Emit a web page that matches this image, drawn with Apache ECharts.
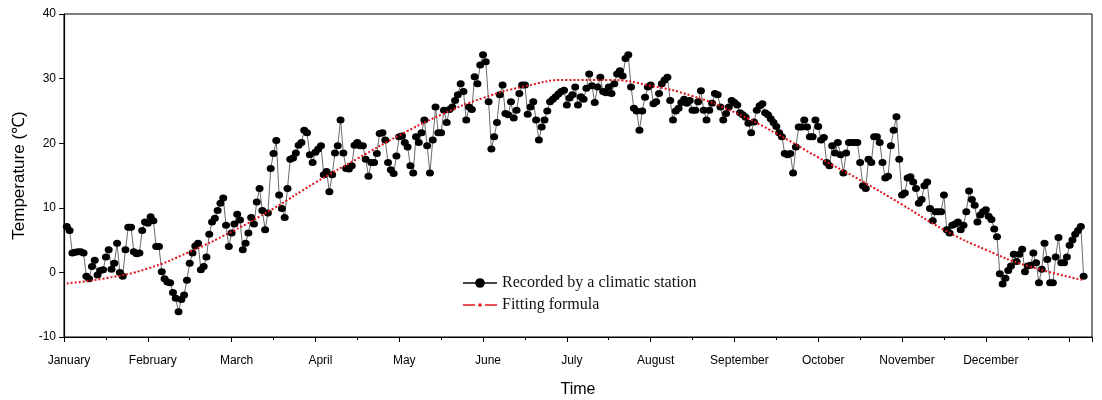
<!DOCTYPE html>
<html><head><meta charset="utf-8">
<script src="https://cdn.jsdelivr.net/npm/echarts/dist/echarts.min.js"></script>
<style>html,body{margin:0;padding:0;background:#fff}#c{width:1102px;height:400px}</style>
</head><body><div id="c"></div>
<script>
// Month tick labels (placed every 30 days on a day axis)
const monthNames = ['January','February','March','April','May','June','July','August','September','October','November','December'];
// Daily temperatures (°C) recorded by the climatic station, by month
const jan = [7.1, 6.5, 3.0, 3.1, 3.2, 3.2, 3.0, -0.6, -1.0, 0.9, 1.9, -0.4, 0.3, 0.4, 2.4, 3.5, 0.5, 1.4, 4.5, 0.0, -0.6, 3.5, 7.0, 7.0, 3.2, 2.9, 3.0, 6.5, 7.8, 7.6, 8.6];
const feb = [8.0, 4.0, 4.0, 0.1, -1.0, -1.5, -1.6, -3.1, -4.0, -6.1, -4.2, -3.5, -1.2, 1.4, 3.0, 4.1, 4.5, 0.4, 0.9, 2.4, 5.9, 7.8, 8.4, 9.6, 10.7, 11.5, 7.3, 4.0];
const mar = [6.1, 7.5, 9.0, 8.1, 3.5, 4.5, 6.1, 8.5, 7.5, 10.9, 13.0, 9.6, 6.6, 9.2, 16.1, 18.4, 20.4, 12.0, 9.9, 8.5, 13.0, 17.5, 17.7, 18.5, 19.7, 20.1, 22.0, 21.6, 18.2, 17.0, 18.6];
const apr = [19.1, 19.6, 15.1, 15.6, 12.5, 15.1, 18.5, 19.6, 23.6, 18.5, 16.1, 16.0, 16.5, 19.7, 20.1, 19.6, 19.6, 17.5, 14.9, 17.0, 17.0, 18.4, 21.5, 21.6, 20.5, 17.0, 15.9, 15.3, 18.0, 21.0];
const may = [21.1, 20.1, 19.4, 16.5, 15.4, 21.0, 20.1, 21.6, 23.6, 19.6, 15.4, 20.5, 25.6, 21.6, 21.6, 25.1, 23.2, 25.2, 25.6, 26.6, 27.5, 29.2, 28.0, 23.6, 25.6, 25.2, 30.3, 29.2, 32.1, 33.7, 32.6];
const jun = [26.4, 19.1, 21.0, 23.2, 27.5, 29.0, 24.6, 24.4, 26.4, 23.9, 25.1, 27.7, 29.0, 29.0, 24.5, 25.6, 26.4, 23.6, 20.5, 22.5, 23.6, 25.0, 26.4, 26.8, 27.2, 27.6, 28.0, 28.2, 25.9, 27.0];
const jul = [27.5, 28.7, 25.9, 27.2, 26.8, 28.5, 30.7, 28.9, 26.3, 28.7, 30.2, 28.0, 27.8, 28.7, 27.7, 29.2, 30.7, 31.2, 30.4, 33.1, 33.7, 28.7, 25.4, 25.0, 22.0, 25.0, 27.1, 28.7, 29.0, 26.1, 26.4];
const aug = [27.7, 29.2, 29.8, 30.2, 26.6, 23.6, 25.0, 25.4, 26.3, 26.8, 26.2, 26.6, 25.1, 25.1, 26.4, 28.1, 25.1, 23.6, 25.1, 26.2, 27.7, 27.5, 25.6, 23.6, 24.6, 25.6, 26.6, 26.3, 25.9, 24.7, 24.4];
const sep = [24.0, 23.1, 21.6, 23.3, 25.1, 25.8, 26.1, 24.7, 24.4, 23.8, 23.2, 22.6, 21.6, 21.0, 18.4, 18.2, 18.4, 15.4, 19.4, 22.5, 22.5, 23.6, 22.5, 21.0, 21.0, 23.6, 22.6, 20.5, 20.9, 17.0];
const oct = [16.5, 19.6, 18.5, 20.1, 18.2, 15.4, 18.5, 20.1, 20.1, 20.1, 20.1, 17.0, 13.4, 13.0, 17.5, 17.0, 21.0, 21.0, 20.1, 17.0, 14.6, 14.9, 19.6, 22.0, 24.1, 17.5, 12.0, 12.3, 14.6, 14.8, 14.0];
const nov = [13.0, 10.7, 11.3, 13.4, 14.0, 9.9, 8.0, 9.4, 9.4, 9.4, 12.0, 6.6, 6.1, 7.3, 7.5, 7.8, 6.6, 7.3, 9.4, 12.6, 11.3, 10.4, 7.8, 8.9, 9.4, 9.7, 8.7, 8.2, 6.7, 5.5];
const dec = [-0.2, -1.8, -0.9, 0.3, 1.0, 2.8, 1.7, 2.8, 3.6, 0.1, 1.0, 1.1, 3.0, 1.5, -1.6, 0.5, 4.5, 2.0, -1.6, -1.6, 2.4, 5.4, 1.5, 1.5, 2.4, 4.2, 5.0, 5.9, 6.5, 7.1, -0.6];
// Fitting formula curve, read at sample days
const fitDays = [1, 15, 30, 45, 60, 75, 90, 105, 120, 135, 150, 165, 180, 195, 210, 225, 240, 255, 270, 285, 300, 315, 330, 345, 365];
const fitValues = [-1.7, -0.9, 0.6, 3.2, 6.3, 9.9, 13.9, 17.6, 21.2, 24.4, 27.0, 28.8, 29.8, 29.8, 28.9, 27.3, 24.8, 21.5, 17.8, 14.3, 10.5, 6.6, 3.5, 1.0, -1.2];

const recorded = [].concat(jan, feb, mar, apr, may, jun, jul, aug, sep, oct, nov, dec);
const recData = recorded.map((v, i) => [i + 1, v]);
const fitData = fitDays.map((d, i) => [d, fitValues[i]]);

const chart = echarts.init(document.getElementById('c'), null, {renderer: 'canvas'});
const sans = 'Liberation Sans, Arial, sans-serif';
const red = '#e3121b';
chart.setOption({
  animation: false,
  backgroundColor: '#fff',
  grid: {left: 64, right: 10, top: 14, bottom: 63, show: true, borderColor: '#000', borderWidth: 1, containLabel: false, outerBoundsMode: 'none'},
  legend: {
    orient: 'vertical', left: 462, top: 275, padding: 0, itemGap: 6, itemWidth: 34, itemHeight: 12,
    textStyle: {fontFamily: 'Liberation Serif, Times New Roman, serif', fontSize: 16, color: '#111'},
    data: [
      {name: 'Recorded by a climatic station'},
      {name: 'Fitting formula', icon: 'path://M0,1H12V2.5H0Z M15.5,0.25H18.5V3.25H15.5Z M22,1H34V2.5H22Z'}
    ]
  },
  xAxis: {
    type: 'value', min: 0, max: 368, interval: 30,
    name: 'Time', nameLocation: 'middle', nameGap: 45,
    nameTextStyle: {fontFamily: sans, fontSize: 16, color: '#000'},
    axisLine: {show: true, onZero: false, lineStyle: {color: '#000', width: 1.2}},
    axisTick: {show: true, inside: false, length: 5, lineStyle: {color: '#000'}},
    minorTick: {show: true, splitNumber: 2, length: 3, lineStyle: {color: '#000'}},
    axisLabel: {
      margin: 18, fontFamily: sans, fontSize: 12, color: '#000', padding: [0, 0, 0, 10],
      showMaxLabel: false,
      formatter: v => (v % 30 === 0 && v / 30 < 12) ? monthNames[v / 30] : ''
    },
    splitLine: {show: false}, minorSplitLine: {show: false}
  },
  yAxis: [{
    type: 'value', min: -10, max: 40, interval: 10,
    name: 'Temperature (℃)', nameLocation: 'middle', nameGap: 36,
    nameTextStyle: {fontFamily: sans, fontSize: 17, color: '#000'},
    axisLine: {show: true, onZero: false, lineStyle: {color: '#000', width: 1.2}},
    axisTick: {show: true, inside: false, length: 5, lineStyle: {color: '#000'}},
    axisLabel: {margin: 8, fontFamily: sans, fontSize: 12, color: '#000'},
    splitLine: {show: false}
  }],
  series: [
    {
      name: 'Recorded by a climatic station', type: 'line', data: recData,
      symbol: 'circle', symbolSize: [8, 7], showSymbol: true, showAllSymbol: true,
      itemStyle: {color: '#000'}, lineStyle: {color: '#444', width: 0.8}, z: 2
    },
    {
      name: 'Fitting formula', type: 'line', data: fitData, smooth: true,
      symbol: 'circle', symbolSize: 3, showSymbol: false,
      itemStyle: {color: red}, lineStyle: {color: red, width: 2, type: 'dotted'}, z: 3
    }
  ]
});
</script></body></html>
